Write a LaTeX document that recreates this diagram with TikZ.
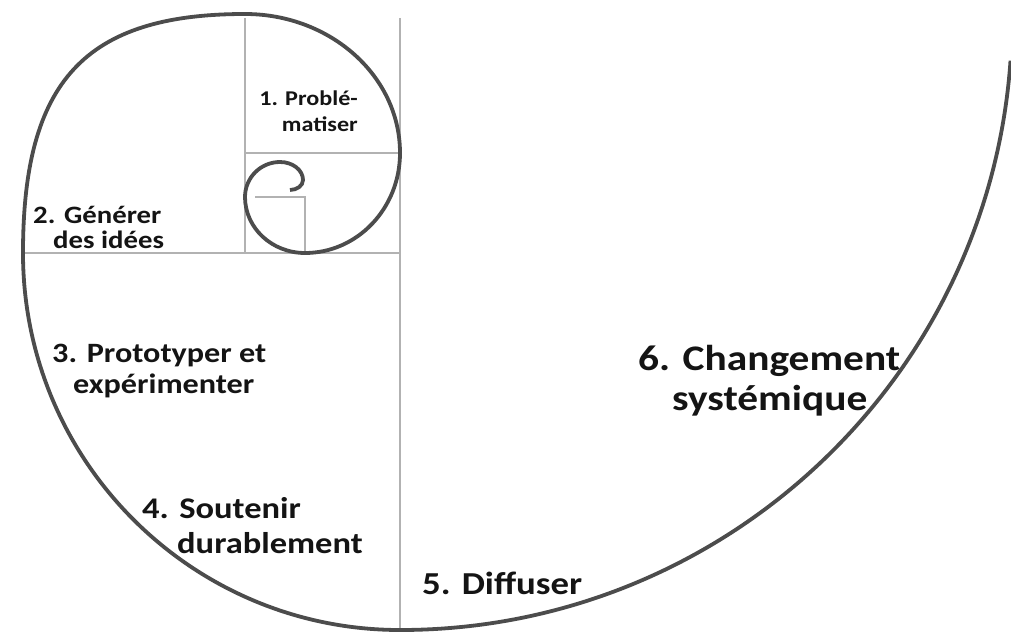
\documentclass[tikz,border=0pt]{standalone}
\usepackage{fontspec}
\setmainfont{Carlito}[FakeStretch=1.15]

\begin{document}
\begin{tikzpicture}[x=1pt,y=-1pt,
  grid/.style={draw=black!30,line width=1.1pt},
  spiral/.style={draw=black!70,line width=3.8pt},
  lbl/.style 2 args={inner sep=0pt,text=black!92,font=\bfseries\fontsize{#1}{#2}\selectfont}]
\useasboundingbox (0,0) rectangle (1011,639);
\draw[grid] (400,18)--(400,631);
\draw[grid] (22,253)--(400,253);
\draw[grid] (245,18)--(245,253);
\draw[grid] (245,153)--(400,153);
\draw[grid] (255,197)--(305,197)--(305,253);
\draw[spiral] (1010.5,60.7) arc[start angle=4,end angle=90,radius=612]
    arc[start angle=90,end angle=180,radius=377]
    .. controls (23,81) and (85,14) .. (245,14)
    arc[start angle=-90,end angle=0,x radius=155,y radius=139]
    arc[start angle=0,end angle=90,x radius=95,y radius=100]
    arc[start angle=90,end angle=180,x radius=60,y radius=56]
    arc[start angle=180,end angle=270,radius=35]
    arc[start angle=270,end angle=360,x radius=23,y radius=18]
    arc[start angle=0,end angle=90,x radius=13,y radius=10];
\node[lbl={21}{26},align=right,anchor=base east] (probl) at (358,132) {1. Problé-\\matiser};
\node[lbl={25}{25},align=left,anchor=base west] (gener) at (33,248) {2. Générer\\\hspace*{20pt}des idées};
\node[lbl={28}{31},align=left,anchor=base west] (proto) at (52,393) {3. Prototyper et\\\hspace*{21pt}expérimenter};
\node[lbl={30}{35},align=left,anchor=base west] (soute) at (142,553) {4. Soutenir\\\hspace*{35pt}durablement};
\node[lbl={32}{38},anchor=base west] (diffu) at (422,594) {5. Diffuser};
\node[lbl={36}{40},align=left,anchor=base west] (chang) at (638,410) {6. Changement\\\hspace*{34pt}systémique};
\end{tikzpicture}
\end{document}
